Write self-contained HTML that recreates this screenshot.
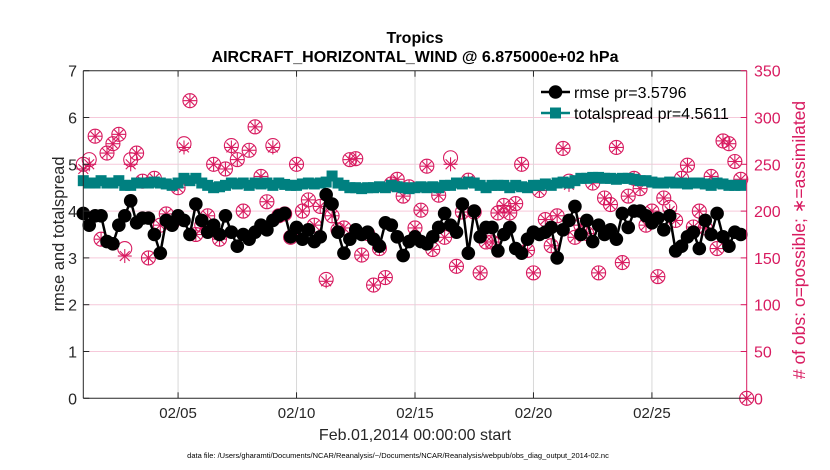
<!DOCTYPE html>
<html><head><meta charset="utf-8"><style>
html,body{margin:0;padding:0;background:#fff;}
svg{display:block;font-family:"Liberation Sans",sans-serif;}
</style></head><body>
<svg id="chart" width="830" height="470"></svg>
<script>
const rmse=[3.95,3.7,3.9,3.9,3.35,3.3,3.7,3.9,4.22,3.75,3.85,3.85,3.5,3.1,3.8,3.7,3.9,3.8,3.5,4.15,3.8,3.55,3.7,3.5,3.9,3.55,3.25,3.5,3.4,3.55,3.7,3.6,3.8,3.9,3.95,3.45,3.65,3.4,3.6,3.35,3.45,4.35,4.15,3.55,3.1,3.4,3.6,
3.5,3.55,3.4,3.25,3.75,3.7,3.45,3.05,3.35,3.45,3.35,3.3,3.45,3.65,3.95,3.7,3.55,4.15,3.1,4.0,3.45,3.65,3.65,3.15,3.5,3.65,3.2,3.1,3.4,3.55,3.5,3.55,
3.65,3.0,3.6,3.8,4.1,3.5,3.8,3.35,3.7,3.5,3.6,3.4,3.95,3.65,4.0,4.0,3.9,3.75,3.85,3.6,3.9,3.15,3.25,3.45,3.55,3.2,3.8,3.5,3.95,3.45,3.25,3.55,3.5,null];
const spread=[4.65,4.6,4.6,4.65,4.6,4.6,4.65,4.55,4.55,4.6,4.6,4.6,4.62,4.6,4.58,4.55,4.6,4.7,4.65,4.7,4.6,4.55,4.5,4.52,4.55,4.6,4.58,4.6,4.55,4.6,4.58,4.6,4.55,4.6,4.57,4.55,4.55,4.58,4.6,4.58,4.6,4.62,4.75,4.6,4.55,4.5,
4.5,4.48,4.5,4.5,4.52,4.5,4.55,4.52,4.5,4.48,4.5,4.52,4.5,4.52,4.5,4.55,4.55,4.6,4.58,4.62,4.6,4.55,4.5,4.55,4.55,4.55,4.5,4.55,4.52,4.5,4.55,4.55,4.58,
4.55,4.6,4.62,4.6,4.65,4.7,4.7,4.72,4.72,4.7,4.7,4.68,4.7,4.7,4.68,4.65,4.65,4.62,4.6,4.6,4.62,4.6,4.6,4.58,4.6,4.6,4.58,4.55,4.6,4.58,4.55,4.55,4.55,null];
const nPossible=[250,255,280,170,262,272,282,160,255,262,232,150,235,185,197,187,225,272,318,175,185,195,250,170,245,270,255,200,265,290,237,210,270,195,197,172,250,200,212,185,205,127,195,180,182,255,
256,153,176,121,160,129,229,234,216,226,182,201,248,159,217,172,257,141,199,233,199,134,167,167,198,206,198,208,250,158,134,222,191,
163,195,267,232,172,185,176,230,134,214,207,268,145,216,235,224,185,200,130,214,204,190,235,249,183,200,182,237,160,275,272,253,234,0];
const nAssim=[245,250,280,170,262,272,282,152,250,262,232,150,235,185,197,187,225,268,318,175,182,195,250,170,245,268,255,200,265,290,237,210,268,195,197,172,250,200,212,185,205,125,195,180,182,255,
256,153,176,121,160,129,229,234,216,226,182,201,248,159,217,172,250,141,199,233,199,134,167,167,198,206,198,208,250,158,134,222,191,
163,195,267,228,172,185,176,230,134,214,207,268,145,216,235,224,185,200,130,214,200,190,235,249,183,200,182,237,160,275,272,253,234,0];
const xTickLabels=["02/05","02/10","02/15","02/20","02/25"];
const xTickDays=[5,10,15,20,25];
const yLeftTicks=[0,1,2,3,4,5,6,7];
const yRightTicks=[0,50,100,150,200,250,300,350];

const L=83.3,R=746.7,T=70.7,B=398.3;
const D0=1,D1=29;
const xs=d=>L+(d-D0)/(D1-D0)*(R-L);
const yl=v=>B-v/7*(B-T);
const yr=v=>B-v/350*(B-T);
const dayOf=i=>D0+i*0.25;
const PINK="#d81b60";
const svg=document.getElementById('chart');
const NS="http://www.w3.org/2000/svg";
function mk(tag,attrs,parent){const e=document.createElementNS(NS,tag);for(const k in attrs)e.setAttribute(k,attrs[k]);(parent||svg).appendChild(e);return e;}

const grid=mk('g',{});


yRightTicks.forEach(v=>{if(v>0&&v<350)mk('line',{x1:L,x2:R,y1:yr(v),y2:yr(v),stroke:'#f6c9da','stroke-width':1},grid);});
xTickDays.forEach(d=>mk('line',{x1:xs(d),x2:xs(d),y1:T,y2:B,stroke:'#d8d8d8','stroke-width':1},grid));

const obs=mk('g',{});


nPossible.forEach((c,i)=>{
  const c1=mk('circle',{cx:xs(dayOf(i)),cy:yr(c),r:7,fill:'none',stroke:PINK,'stroke-width':1.1},obs);
  
  
});
nAssim.forEach((c,i)=>{
  const x=xs(dayOf(i)),y=yr(c),s=7;
  const g=mk('g',{stroke:PINK,'stroke-width':1.1},obs);
  
  
  mk('line',{x1:x-s,x2:x+s,y1:y,y2:y},g);
  mk('line',{x1:x,x2:x,y1:y-s,y2:y+s},g);
  mk('line',{x1:x-4.9,x2:x+4.9,y1:y-4.9,y2:y+4.9},g);
  mk('line',{x1:x-4.9,x2:x+4.9,y1:y+4.9,y2:y-4.9},g);
});

function series(vals,color,name,marker){
  const g=mk('g',{});
  
  
  let d='';let pen=false;
  vals.forEach((v,i)=>{if(v==null){pen=false;return;}d+=(pen?'L':'M')+xs(dayOf(i)).toFixed(2)+' '+yl(v).toFixed(2);pen=true;});
  mk('path',{d:d,fill:'none',stroke:color,'stroke-width':2.5},g);
  vals.forEach((v,i)=>{if(v==null)return;const x=xs(dayOf(i)),y=yl(v);
    let m;
    if(marker==='circle')m=mk('circle',{cx:x,cy:y,r:6.8,fill:color},g);
    else m=mk('rect',{x:x-5.5,y:y-5.5,width:11,height:11,fill:color},g);
    
    
  });
}
series(spread,'#008080','totalspread-series','square');
series(rmse,'#000','rmse-series','circle');

const ax=mk('g',{});


mk('line',{x1:L,x2:L,y1:T,y2:B,stroke:'#262626','stroke-width':1},ax);
mk('line',{x1:L,x2:R,y1:T,y2:T,stroke:'#262626','stroke-width':1},ax);
mk('line',{x1:L,x2:R,y1:B,y2:B,stroke:'#262626','stroke-width':1},ax);
mk('line',{x1:R,x2:R,y1:T,y2:B,stroke:PINK,'stroke-width':1},ax);
xTickDays.forEach((d,i)=>{
  mk('line',{x1:xs(d),x2:xs(d),y1:B,y2:B-6,stroke:'#262626'},ax);
  mk('line',{x1:xs(d),x2:xs(d),y1:T,y2:T+6,stroke:'#262626'},ax);
  const t=mk('text',{x:xs(d),y:418,'text-anchor':'middle','font-size':15,fill:'#262626'},ax);
  t.textContent=xTickLabels[i];
  
  
});
yLeftTicks.forEach(v=>{
  mk('line',{x1:L,x2:L+6,y1:yl(v),y2:yl(v),stroke:'#262626'},ax);
  const t=mk('text',{x:77,y:yl(v)+6,'text-anchor':'end','font-size':16,fill:'#262626'},ax);
  t.textContent=v;
  
  
});
yRightTicks.forEach(v=>{
  mk('line',{x1:R,x2:R-6,y1:yr(v),y2:yr(v),stroke:PINK},ax);
  const t=mk('text',{x:754,y:yr(v)+6,'text-anchor':'start','font-size':16,fill:PINK},ax);
  t.textContent=v;
  
  
});
</script>
<svg width="830" height="470" style="position:absolute;left:0;top:0;font-family:'Liberation Sans',sans-serif;">
  <text x="415" y="43" text-anchor="middle" font-size="16" font-weight="bold" fill="#000">Tropics</text>
  <text x="415" y="62" text-anchor="middle" font-size="16" font-weight="bold" fill="#000">AIRCRAFT_HORIZONTAL_WIND @ 6.875000e+02 hPa</text>
  <text x="415" y="440" text-anchor="middle" font-size="16" fill="#262626">Feb.01,2014 00:00:00 start</text>
  <text x="398" y="458" text-anchor="middle" font-size="7.5" fill="#000">data file: /Users/gharamti/Documents/NCAR/Reanalysis/~/Documents/NCAR/Reanalysis/webpub/obs_diag_output_2014-02.nc</text>
  <text transform="translate(64,234) rotate(-90)" text-anchor="middle" font-size="16.5" fill="#262626">rmse and totalspread</text>
  <text transform="translate(805,240) rotate(-90)" text-anchor="middle" font-size="17.5" fill="#d81b60"># of obs: o=possible; ∗=assimilated</text>
  <g>
    <g>
      <line x1="541" x2="570" y1="92" y2="92" stroke="#000" stroke-width="2.5"/>
      <circle cx="555.5" cy="92" r="6.8" fill="#000"/>
      <text x="574" y="98" font-size="16" fill="#000">rmse pr=3.5796</text>
    </g>
    <g>
      <line x1="541" x2="570" y1="113" y2="113" stroke="#008080" stroke-width="2.5"/>
      <rect x="550" y="107.5" width="11" height="11" fill="#008080"/>
      <text x="574" y="119" font-size="16" fill="#000">totalspread pr=4.5611</text>
    </g>
  </g>
</svg>
</body></html>
